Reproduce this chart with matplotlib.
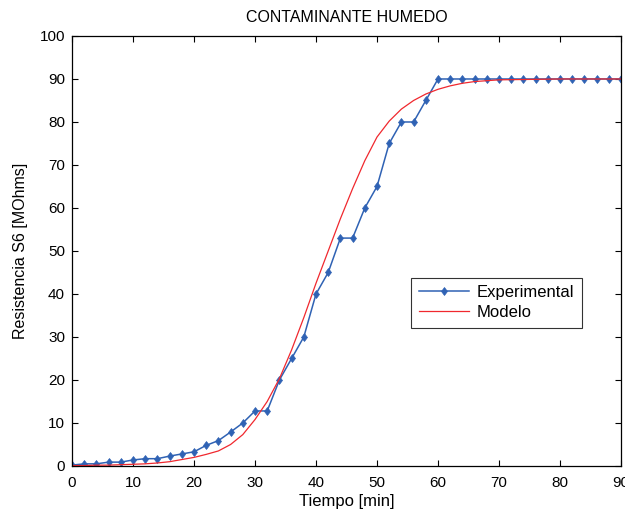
import matplotlib.pyplot as plt

plt.rcParams['font.family'] = ['Liberation Sans', 'DejaVu Sans']

# experimental readings every 2 min
t_exp = list(range(0, 92, 2))
r_exp = [0.2, 0.5, 0.5, 0.9, 0.9, 1.4, 1.7, 1.7, 2.3, 2.8,
         3.3, 4.8, 5.9, 7.9, 10.0, 12.8, 12.8, 20.0, 25.0, 30.0,
         40.0, 45.0, 53.0, 53.0, 60.0, 65.0, 75.0, 80.0, 80.0, 85.0,
         90.0, 90.0, 90.0, 90.0, 90.0, 90.0, 90.0, 90.0, 90.0, 90.0,
         90.0, 90.0, 90.0, 90.0, 90.0, 90.0]

# model curve
t_mod = [0, 2, 4, 6, 8, 10, 12, 14, 16, 18, 20, 22, 24, 26, 28, 30, 32, 34,
         36, 38, 40, 42, 44, 46, 48, 50, 52, 54, 56, 58, 60, 62, 64, 66, 68,
         70, 75, 80, 85, 90]
r_mod = [0.1, 0.1, 0.2, 0.2, 0.3, 0.4, 0.5, 0.7, 1.0, 1.5, 2.0, 2.7, 3.5,
         5.0, 7.3, 10.8, 15.0, 20.3, 27.0, 34.5, 42.5, 50.0, 57.5, 64.5,
         71.0, 76.5, 80.2, 83.0, 85.0, 86.5, 87.6, 88.4, 89.0, 89.4, 89.6,
         89.8, 89.9, 90.0, 90.0, 90.0]

fig = plt.figure(figsize=(6.25, 5.14), dpi=100)
ax = fig.add_axes([0.1152, 0.0934, 0.8784, 0.8366])

ax.plot(t_exp, r_exp, color='#2f62b4', linewidth=1.1, marker='d',
        markersize=4.5, markeredgewidth=0.5, label='Experimental')
ax.plot(t_mod, r_mod, color='#f0282e', linewidth=0.9, label='Modelo')

ax.set_xlim(0, 90)
ax.set_ylim(0, 100)
ax.set_xticks(list(range(0, 100, 10)))
ax.set_yticks(list(range(0, 110, 10)))
ax.tick_params(direction='in', length=4, width=0.8, labelsize=11,
               top=True, right=True)
ax.tick_params(axis='x', pad=7)
ax.tick_params(axis='y', pad=5)
for s in ax.spines.values():
    s.set_linewidth(0.9)

ax.set_title('CONTAMINANTE HUMEDO', fontsize=11.5, pad=10)
ax.set_xlabel('Tiempo [min]', fontsize=12, labelpad=3)
ax.set_ylabel('Resistencia S6 [MOhms]', fontsize=11.5, labelpad=8)

leg = ax.legend(loc='lower left', bbox_to_anchor=(0.6175, 0.3216),
                borderaxespad=0, fontsize=12, numpoints=1, fancybox=False,
                handlelength=3.0, handletextpad=0.5, borderpad=0.45,
                labelspacing=0.3)
leg.get_frame().set_edgecolor('black')
leg.get_frame().set_linewidth(0.8)

plt.savefig('out.png', dpi=100)
